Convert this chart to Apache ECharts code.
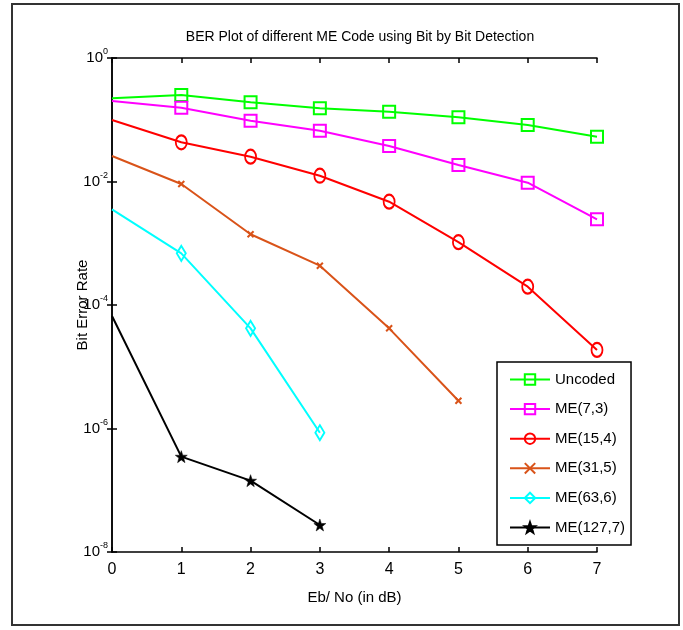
<!DOCTYPE html>
<html>
<head>
<meta charset="utf-8">
<script src="https://cdn.jsdelivr.net/npm/echarts@6/dist/echarts.min.js"></script>
<style>
  html, body { margin: 0; padding: 0; background: #fff; }
  #main { width: 683px; height: 630px; }
</style>
</head>
<body>
<div id="main"></div>
<script>
var chartDom = document.getElementById('main');
var myChart = echarts.init(chartDom);
var option;

// Eb/No in dB
let snr = [0, 1, 2, 3, 4, 5, 6, 7];

// bit error rate
let uncoded = [0.222, 0.252, 0.192, 0.153, 0.135, 0.110, 0.0822, 0.0532];
let me73 = [0.201, 0.157, 0.0966, 0.0665, 0.0376, 0.0185, 0.00957, 0.00244];
let me154 = [0.099, 0.0431, 0.0252, 0.0124, 0.00471, 0.00104, 0.000198, 0.0000187];
let me315 = [0.0259, 0.00912, 0.0014, 0.000433, 0.0000419, 0.00000282];
let me636 = [0.00354, 0.000687, 0.0000419, 0.000000855];
let me1277 = [0.0000664, 0.00000035, 0.000000143, 0.0000000274];

let names = ['Uncoded', 'ME(7,3)', 'ME(15,4)', 'ME(31,5)', 'ME(63,6)', 'ME(127,7)'];

// markers are not drawn on the y axis itself (x = 0)
function pairs(ys) {
  return ys.map(function (y, i) {
    let p = { value: [snr[i], y] };
    if (i === 0) p.symbol = 'none';
    return p;
  });
}

let fontFam = 'Liberation Sans, Arial, sans-serif';
let starPath = 'path://M10,0L12.35,6.76L19.51,6.91L13.8,11.24L15.88,18.09L10,14L4.12,18.09L6.2,11.24L0.49,6.91L7.65,6.76Z';
let xPath = 'path://M0,0L10,10M10,0L0,10';

function mkSeries(name, ys, color, symbol, size, filled) {
  return {
    name: name,
    type: 'line',
    data: pairs(ys),
    symbol: symbol,
    symbolSize: size,
    showAllSymbol: true,
    lineStyle: { color: color, width: 2 },
    itemStyle: {
      color: filled ? color : 'rgba(0,0,0,0)',
      borderColor: color,
      borderWidth: filled ? 0.5 : 2
    },
    emphasis: { disabled: true }
  };
}

let logAxisLabel = {
  formatter: function (v) {
    let e = Math.round(Math.log10(v));
    return '{b|10}{s|' + e + '}';
  },
  margin: 4,
  rich: {
    b: { fontSize: 15, fontFamily: fontFam, color: '#000' },
    s: { fontSize: 9, fontFamily: fontFam, color: '#000', padding: [0, 0, 12, 0] }
  }
};

option = {
  animation: false,
  title: {
    text: 'BER Plot of different ME Code using Bit by Bit Detection',
    left: 355,
    top: 25,
    textAlign: 'center',
    textStyle: { fontSize: 14, fontWeight: 'normal', fontFamily: fontFam, color: '#000' }
  },
  graphic: [{
    type: 'rect',
    shape: { x: 12, y: 4, width: 667, height: 621 },
    style: { fill: 'none', stroke: '#333', lineWidth: 2 }
  }],
  grid: { left: 112, top: 58, width: 485, height: 494 },
  legend: {
    orient: 'vertical',
    left: 497,
    top: 362,
    itemWidth: 40,
    itemHeight: 13,
    itemGap: 14.6,
    padding: [10, 6, 10, 12],
    backgroundColor: '#fff',
    borderColor: '#000',
    borderWidth: 1.5,
    textStyle: { fontSize: 15, fontFamily: fontFam, color: '#000' },
    data: names
  },
  xAxis: [{
    type: 'value',
    min: 0,
    max: 7,
    interval: 1,
    name: 'Eb/ No (in dB)',
    nameLocation: 'middle',
    nameGap: 38,
    nameTextStyle: { fontSize: 15, fontFamily: fontFam, color: '#000' },
    axisLine: { lineStyle: { color: '#000', width: 1.5 } },
    axisTick: { inside: true, length: 5, lineStyle: { color: '#000', width: 1.5 } },
    axisLabel: { fontSize: 16, fontFamily: fontFam, color: '#000', margin: 10 },
    splitLine: { show: false }
  }, {
    type: 'value',
    position: 'top',
    min: 0,
    max: 7,
    interval: 1,
    axisLine: { lineStyle: { color: '#000', width: 1.5 } },
    axisTick: { inside: true, length: 5, lineStyle: { color: '#000', width: 1.5 } },
    axisLabel: { show: false },
    splitLine: { show: false }
  }],
  yAxis: [{
    type: 'log',
    logBase: 10,
    min: 1e-8,
    max: 1,
    interval: 2,
    name: 'Bit Error Rate',
    nameLocation: 'middle',
    nameRotate: 90,
    nameGap: 22,
    nameMoveOverlap: false,
    nameTextStyle: { fontSize: 15, fontFamily: fontFam, color: '#000' },
    axisLine: { show: true, lineStyle: { color: '#000', width: 1.5 } },
    axisTick: { show: true, inside: true, length: 5, lineStyle: { color: '#000', width: 1.5 } },
    axisLabel: logAxisLabel,
    splitLine: { show: false }
  }, {
    type: 'log',
    logBase: 10,
    position: 'right',
    min: 1e-8,
    max: 1,
    interval: 2,
    axisLine: { show: true, lineStyle: { color: '#000', width: 1.5 } },
    axisTick: { show: true, inside: true, length: 5, lineStyle: { color: '#000', width: 1.5 } },
    axisLabel: { show: false },
    splitLine: { show: false }
  }],
  series: [
    mkSeries(names[0], uncoded, '#00ff00', 'rect', 12, false),
    mkSeries(names[1], me73, '#ff00ff', 'rect', 12, false),
    mkSeries(names[2], me154, '#ff0000', 'circle', [11, 14], false),
    mkSeries(names[3], me315, '#d95319', xPath, 6, false),
    mkSeries(names[4], me636, '#00ffff', 'diamond', [9, 15], false),
    mkSeries(names[5], me1277, '#000000', starPath, 12, true)
  ]
};

option && myChart.setOption(option);
</script>
</body>
</html>
